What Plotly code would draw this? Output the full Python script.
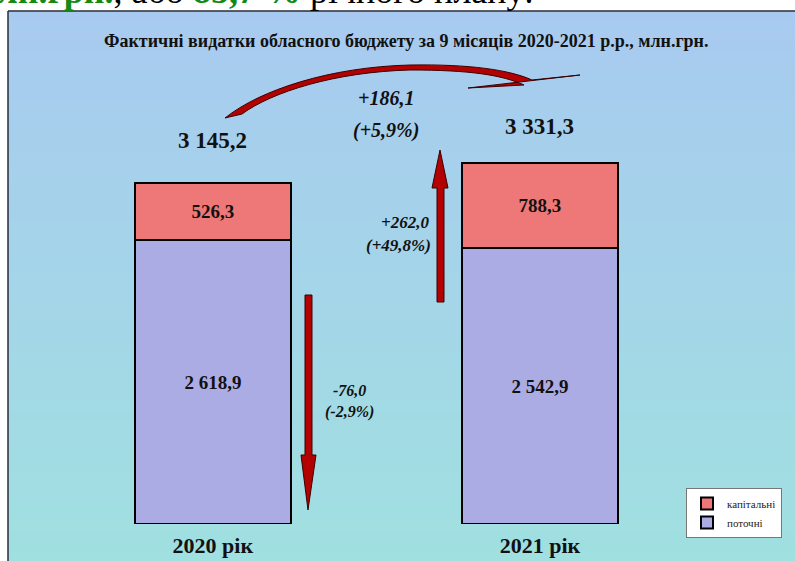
import plotly.graph_objects as go

# ---- data ----
years = ["2020 рік", "2021 рік"]
current = [2618.9, 2542.9]      # поточні
capital = [526.3, 788.3]        # капітальні
totals = [3145.2, 3331.3]
change_total = [186.1, 5.9]
change_capital = [262.0, 49.8]
change_current = [-76.0, -2.9]

W, H = 795, 561
MB = 37                     # bottom margin (plot area bottom at y=524)
PH = H - MB
SERIF = "Liberation Serif, Times New Roman, serif"


def px(x):
    return x / W


def py(y):
    return (PH - y) / PH


def fmt(v, sign=False):
    s = f"{v:+.1f}" if sign else f"{v:.1f}"
    return s.replace(".", ",")


def fmt_thousands(v):
    s = f"{v:,.1f}"
    return s.replace(",", " ").replace(".", ",")


fig = go.Figure()
fig.add_trace(go.Bar(
    x=years, y=current, name="поточні",
    marker=dict(color="#ACACE4", line=dict(color="#000000", width=2)),
    width=0.477,
    texttemplate="%{y:,.1f}", textposition="inside", insidetextanchor="middle",
    textfont=dict(family=SERIF, size=19, color="#111111", weight="bold"),
))
fig.add_trace(go.Bar(
    x=years, y=capital, name="капітальні",
    marker=dict(color="#EE7878", line=dict(color="#000000", width=2)),
    width=0.477,
    texttemplate="%{y:,.1f}", textposition="inside", insidetextanchor="middle",
    textfont=dict(family=SERIF, size=19, color="#111111", weight="bold"),
))

shapes = []
# gradient background panel
top_c = (168, 202, 240)
bot_c = (160, 224, 224)
n = 55
y0, y1 = 11, H
for i in range(n):
    a = y0 + (y1 - y0) * i / n
    b = y0 + (y1 - y0) * (i + 1) / n + 0.6
    t = (i + 0.5) / n
    c = tuple(round(top_c[k] + (bot_c[k] - top_c[k]) * t) for k in range(3))
    shapes.append(dict(type="rect", xref="paper", yref="paper",
                       x0=px(8), x1=px(W + 2), y0=py(a), y1=py(b),
                       fillcolor=f"rgb{c}", line=dict(width=0), layer="below"))
# panel border (top and left)
shapes.append(dict(type="line", xref="paper", yref="paper", x0=px(8), x1=px(W + 2),
                   y0=py(11), y1=py(11), line=dict(color="#2B2B3B", width=1.5), layer="below"))
shapes.append(dict(type="line", xref="paper", yref="paper", x0=px(8), x1=px(8),
                   y0=py(11), y1=py(H + 2), line=dict(color="#2B2B3B", width=1.5), layer="below"))


def path(pts_cmds):
    out = []
    for cmd, pts in pts_cmds:
        coords = " ".join(f"{px(x):.5f},{py(y):.5f}" for x, y in pts)
        out.append(f"{cmd} {coords}")
    return " ".join(out) + " Z"


arrow_style = dict(type="path", xref="paper", yref="paper",
                   fillcolor="#B30000", line=dict(color="#3A0000", width=1))

# curved arrow (total change)
curve = path([
    ("M", [(225, 118)]),
    ("C", [(260, 90), (330, 67), (410, 65)]),
    ("C", [(470, 64), (510, 70), (532, 80)]),
    ("L", [(580, 75)]),
    ("L", [(468, 88)]),
    ("L", [(524, 85)]),
    ("C", [(502, 75), (470, 70), (410, 70)]),
    ("C", [(335, 72), (272, 92), (242, 114)]),
])
shapes.append(dict(arrow_style, path=curve))

# down arrow (current change)
down = path([
    ("M", [(305, 295)]), ("L", [(312, 295)]), ("L", [(312, 455)]), ("L", [(316, 455)]),
    ("L", [(308, 510)]), ("L", [(301, 455)]), ("L", [(305, 455)]),
])
shapes.append(dict(arrow_style, path=down))

# up arrow (capital change)
up = path([
    ("M", [(437, 302)]), ("L", [(444, 302)]), ("L", [(444, 188)]), ("L", [(448, 188)]),
    ("L", [(440, 150)]), ("L", [(432, 188)]), ("L", [(437, 188)]),
])
shapes.append(dict(arrow_style, path=up))

ann = []
# cut-off slide text above the chart
ann.append(dict(
    text='<span style="color:#138A13"><b>млн.грн.</b></span>, або '
         '<span style="color:#138A13"><b>85,7 %</b></span> річного плану:',
    xref="paper", yref="paper", x=px(536), y=py(13), xanchor="right", yanchor="bottom",
    showarrow=False, font=dict(family=SERIF, size=36, color="#000000")))
# title
ann.append(dict(
    text="<b>Фактичні видатки обласного бюджету за 9 місяців 2020-2021 р.р., млн.грн.</b>",
    xref="paper", yref="paper", x=px(406), y=py(41), xanchor="center", yanchor="middle",
    showarrow=False, font=dict(family=SERIF, size=18, color="#111111")))
# totals above bars
for yr, tot, sh in zip(years, totals, [28, 22]):
    ann.append(dict(text=f"<b>{fmt_thousands(tot)}</b>", x=yr, y=tot, xref="x", yref="y",
                    yanchor="bottom", yshift=sh, showarrow=False,
                    font=dict(family=SERIF, size=23, color="#111111")))
# change labels
bi = dict(family=SERIF, color="#111111")
lab = dict(xref="paper", yref="paper", yanchor="middle", showarrow=False)
ann.append(dict(lab, text=f"<b><i>{fmt(change_total[0], True)}</i></b>",
                x=px(386), y=py(98), xanchor="center", font=dict(bi, size=20)))
ann.append(dict(lab, text=f"<b><i>({fmt(change_total[1], True)}%)</i></b>",
                x=px(386), y=py(130), xanchor="center", font=dict(bi, size=20)))
ann.append(dict(lab, text=f"<b><i>{fmt(change_capital[0], True)}</i></b>",
                x=px(431), y=py(222), xanchor="right", font=dict(bi, size=17)))
ann.append(dict(lab, text=f"<b><i>({fmt(change_capital[1], True)}%)</i></b>",
                x=px(433), y=py(246), xanchor="right", font=dict(bi, size=17)))
ann.append(dict(lab, text=f"<b><i>{fmt(change_current[0], True)}</i></b>",
                x=px(349), y=py(390), xanchor="center", font=dict(bi, size=16)))
ann.append(dict(lab, text=f"<b><i>({fmt(change_current[1], True)}%)</i></b>",
                x=px(349), y=py(412), xanchor="center", font=dict(bi, size=16)))

fig.update_layout(
    width=W, height=H,
    margin=dict(l=0, r=0, t=0, b=MB),
    barmode="stack",
    separators=", ",
    paper_bgcolor="#FFFFFF",
    plot_bgcolor="rgba(0,0,0,0)",
    shapes=shapes,
    annotations=ann,
    showlegend=True,
    legend=dict(x=px(686), y=py(488), xanchor="left", yanchor="top",
                bgcolor="#FFFFFF", bordercolor="#777777", borderwidth=1,
                font=dict(family=SERIF, size=11, color="#222222"),
                traceorder="reversed"),
    xaxis=dict(type="category", range=[-0.651, 1.780], showgrid=False, zeroline=False,
               showline=False, ticks="", ticklabelstandoff=6,
               tickfont=dict(family=SERIF, size=22, color="#111111", weight="bold")),
    yaxis=dict(range=[0, PH / 0.1084], visible=False, showgrid=False, zeroline=False),
)

fig.write_html("out.html", config={"displayModeBar": False},
               post_script="document.body.style.margin='0';document.body.style.overflow='hidden';")
